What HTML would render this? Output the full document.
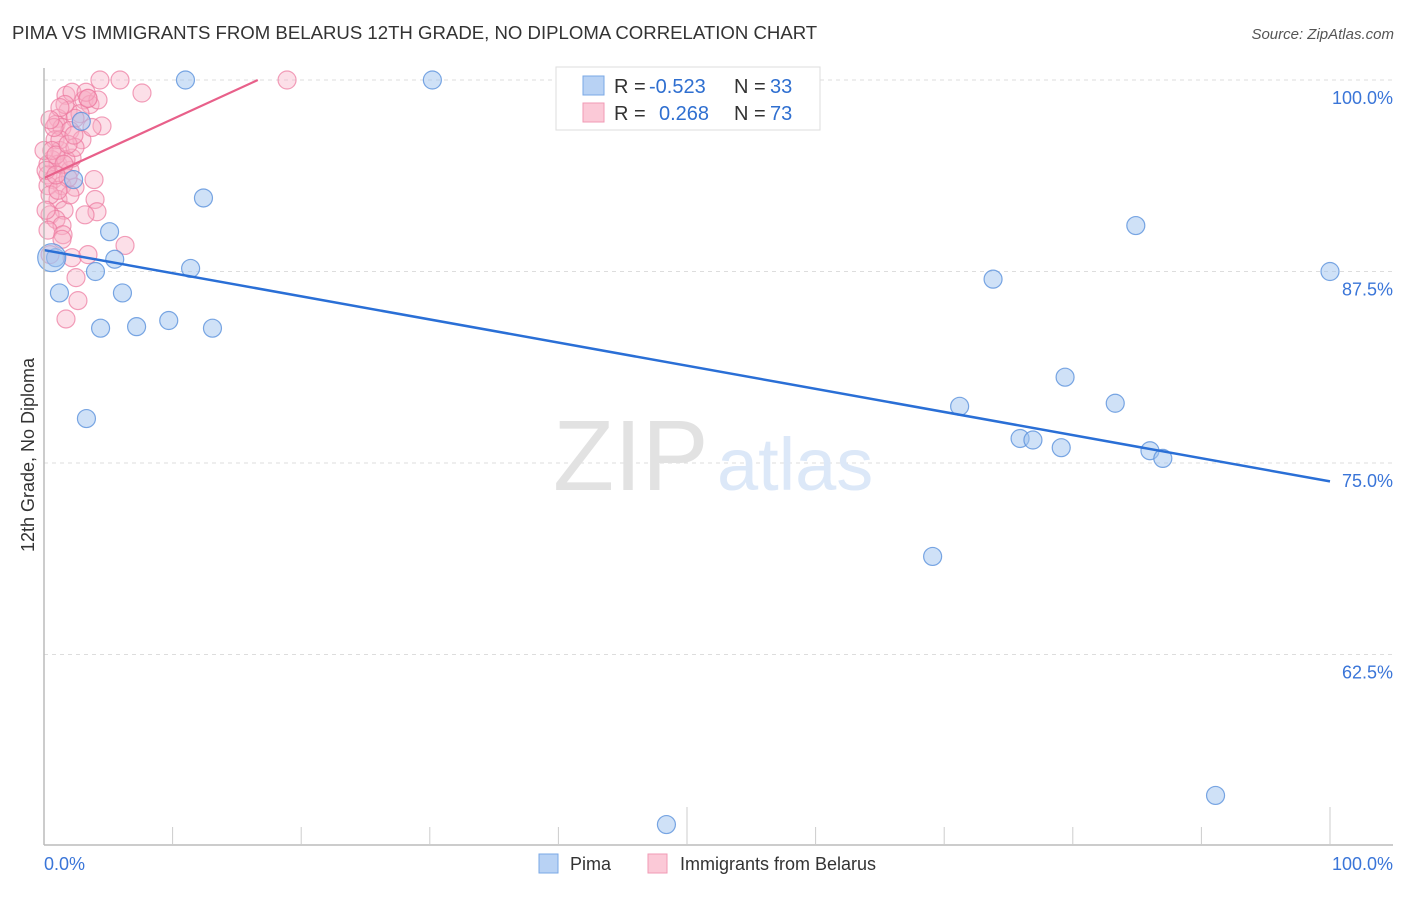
<!DOCTYPE html>
<html><head><meta charset="utf-8"><style>
body{margin:0;background:#fff;font-family:"Liberation Sans",sans-serif;}
svg text{font-family:"Liberation Sans",sans-serif;}
</style></head><body>
<svg id="chart" width="1406" height="892" xmlns="http://www.w3.org/2000/svg">
<text x="12" y="39" font-size="18.6" fill="#333">PIMA VS IMMIGRANTS FROM BELARUS 12TH GRADE, NO DIPLOMA CORRELATION CHART</text>
<text x="1394" y="39" font-size="15" fill="#555" font-style="italic" text-anchor="end">Source: ZipAtlas.com</text>
<g id="grid"></g>
<text x="553" y="490" font-family="Liberation Serif,serif" font-size="100" fill="#e2e2e2">ZIP</text>
<text x="717" y="490" font-size="74" fill="#dce8f8">atlas</text>
<g id="pts"></g>
<g id="lines"></g>
<g id="axes"></g>
<text transform="translate(34,455) rotate(-90)" font-size="18" fill="#333" text-anchor="middle">12th Grade, No Diploma</text>
<g>
<rect x="556" y="67" width="264" height="63" fill="#fff" stroke="#ddd"/>
<rect x="583" y="76" width="21" height="19" fill="#b8d2f4" stroke="#7aa8e6"/>
<rect x="583" y="103" width="21" height="19" fill="#fbc9d7" stroke="#f09ab4"/>
<text x="614" y="93" font-size="20" fill="#333">R = <tspan x="649" fill="#2f6fd0">-0.523</tspan><tspan x="734">N = </tspan><tspan x="770" fill="#2f6fd0">33</tspan></text>
<text x="614" y="120" font-size="20" fill="#333">R = <tspan x="659" fill="#2f6fd0">0.268</tspan><tspan x="734">N = </tspan><tspan x="770" fill="#2f6fd0">73</tspan></text>
</g>
<g>
<rect x="539" y="854" width="19" height="19" fill="#b8d2f4" stroke="#7aa8e6"/>
<text x="570" y="870" font-size="18" fill="#333">Pima</text>
<rect x="648" y="854" width="19" height="19" fill="#fbc9d7" stroke="#f09ab4"/>
<text x="680" y="870" font-size="18" fill="#333">Immigrants from Belarus</text>
</g>
</svg>
<script>
const yTicks=[100,87.5,75,62.5];
const yTickLabels=["100.0%","87.5%","75.0%","62.5%"];
const xTickLabels=["0.0%","100.0%"];
const blueX=[11.0,30.2,2.9,2.3,12.4,5.1,84.9,100,11.4,5.5,0.9,4.0,73.8,1.2,6.1,4.4,7.2,9.7,13.1,3.3,79.4,71.2,83.3,75.9,76.9,79.1,86.0,87.0,69.1,48.4,91.1,0.6];
const blueY=[100,100,97.3,93.5,92.3,90.1,90.5,87.5,87.7,88.3,88.4,87.5,87.0,86.1,86.1,83.8,83.9,84.3,83.8,77.9,80.6,78.7,78.9,76.6,76.5,76.0,75.8,75.3,68.9,51.4,53.3,88.4];
const pinkX=[4.35,5.91,18.9,7.62,1.71,2.18,1.87,3.11,3.42,3.58,2.8,2.41,1.09,0.93,1.4,2.02,4.51,0.86,1.24,0.62,1.09,2.02,2.18,0.31,0.31,0.7,1.4,2.41,3.89,3.97,1.09,1.56,0.47,0.93,4.12,1.4,0.31,1.48,6.3,0.47,2.18,3.42,2.49,2.64,1.71,0.31,0.47,2.02,0,0.16,1.24,1.63,4.2,2.95,1.71,0.78,2.41,1.87,3.27,1.24,0.62,0.93,0.16,1.56,1.09,3.19,1.87,3.73,2.33,0.93,3.42,0.47,1.4];
const pinkY=[100,100,100,99.15,99.0,99.2,98.0,98.7,98.8,98.4,97.8,97.5,97.5,97.1,96.9,96.7,97.0,96.1,95.4,94.8,94.5,94.1,94.9,94.5,93.8,93.5,93.1,93.0,93.5,92.2,92.2,91.5,91.2,90.9,91.4,90.5,90.2,89.9,89.2,88.6,88.4,88.6,87.1,85.6,84.4,93.1,92.5,92.5,95.4,94.1,96.1,98.4,98.7,96.1,94.8,96.9,95.6,93.6,99.2,98.2,95.4,95.1,91.5,94.5,92.8,91.2,95.8,96.9,96.4,93.8,98.8,97.4,89.6];
const blueTrend=[88.9,73.8];
const pinkTrend=[93.6,0.385];
const NS="http://www.w3.org/2000/svg";
const X0=44,X1=1330,Y100=80,PER=191.5/12.5;
function sx(v){return X0+(X1-X0)*v/100;}
function sy(v){return Y100+(100-v)*PER;}
function mk(t,a,p){const e=document.createElementNS(NS,t);for(const k in a)e.setAttribute(k,a[k]);p.appendChild(e);return e;}
const grid=document.getElementById('grid'),axes=document.getElementById('axes');
yTicks.forEach((v,i)=>{
 const l=mk('line',{x1:44,x2:1393,y1:sy(v),y2:sy(v),stroke:'#ddd','stroke-dasharray':'4,4'},grid);
 
 
 const t=mk('text',{x:1393,y:sy(v)+24,'font-size':18,fill:'#3a75d8','text-anchor':'end'},grid);
 t.textContent=yTickLabels[i];
 
 
});
const ax=mk('line',{x1:44,x2:44,y1:68,y2:845,stroke:'#bbb','stroke-width':1.5},axes);


const bx=mk('line',{x1:44,x2:1393,y1:845,y2:845,stroke:'#bbb','stroke-width':1.5},axes);


for(let i=1;i<=10;i++){
 const tk=mk('line',{x1:sx(i*10),x2:sx(i*10),y1:(i==5||i==10)?807:827,y2:845,stroke:'#ccc'},axes);
 
 
}
[[0,'start',44],[100,'end',1393]].forEach((d,i)=>{
 const t=mk('text',{x:d[2],y:870,'font-size':18,fill:'#3a75d8','text-anchor':d[1]},axes);
 t.textContent=xTickLabels[i];
 
 
});
const pts=document.getElementById('pts');
pinkX.forEach((x,i)=>{
 const c=mk('circle',{cx:sx(x),cy:sy(pinkY[i]),r:9,fill:'rgba(248,175,198,0.4)',stroke:'rgba(236,120,158,0.7)','stroke-width':1.2},pts);
 
 
});
blueX.forEach((x,i)=>{
 const c=mk('circle',{cx:sx(x),cy:sy(blueY[i]),r:i==31?14:9,fill:'rgba(160,196,240,0.5)',stroke:'rgba(90,145,220,0.8)','stroke-width':1.2},pts);
 
 
});
const lines=document.getElementById('lines');
const bl=mk('line',{x1:sx(0),y1:sy(blueTrend[0]),x2:sx(100),y2:sy(blueTrend[1]),stroke:'#2a6fd6','stroke-width':2.5},lines);


const xe=(100-pinkTrend[0])/pinkTrend[1];
const pl=mk('line',{x1:sx(0),y1:sy(pinkTrend[0]),x2:sx(xe),y2:sy(100),stroke:'#e8608a','stroke-width':2.2},lines);


</script>
</body></html>
